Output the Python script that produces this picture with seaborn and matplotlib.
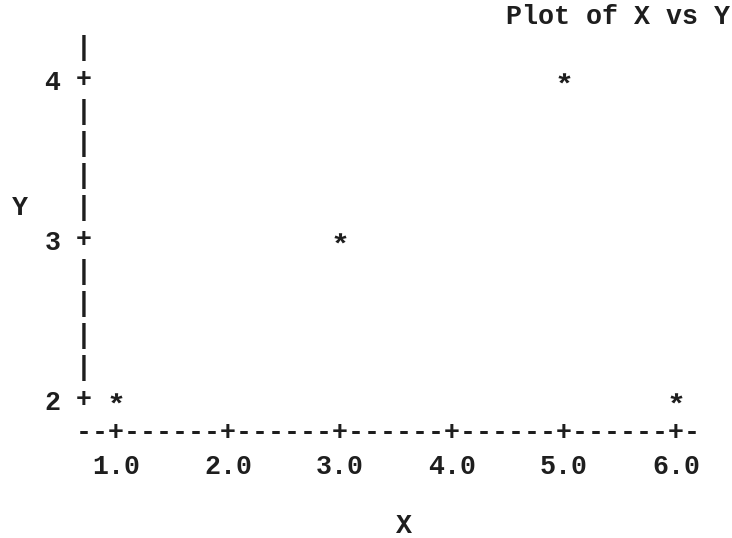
import numpy as np
import matplotlib
matplotlib.use("Agg")
import matplotlib.pyplot as plt
import seaborn as sns
from matplotlib.textpath import TextPath
from matplotlib.font_manager import FontProperties
from matplotlib.path import Path

# ============ Data ============
x_vals = [1.0, 3.0, 5.0, 6.0]
y_vals = [2, 3, 4, 2]
x_ticks = [1.0, 2.0, 3.0, 4.0, 5.0, 6.0]
x_tick_labels = ["1.0", "2.0", "3.0", "4.0", "5.0", "6.0"]
y_ticks = [2, 3, 4]
y_tick_labels = ["2", "3", "4"]

# ============ Style ============
sns.set_theme(style="white")
plt.rcParams["font.family"] = ["Liberation Mono", "DejaVu Sans Mono"]
plt.rcParams["font.weight"] = "bold"
FS = 19.2          # 16 px per character at 100 dpi
INK = "#1e1e1e"
W, H = 732, 538

fig = plt.figure(figsize=(W / 100, H / 100), dpi=100)
ax = fig.add_axes([84 / W, (H - 433) / H, (700 - 84) / W, (433 - 30) / H])
ax.set_xlim(1 - 32 / 112, 6 + 24 / 112)
ax.set_ylim(2 - 33 / 160, 4 + 50 / 160)
for s in ax.spines.values():
    s.set_visible(False)

# asterisk marker built from the font glyph, centred on its ink box
fp = FontProperties(family="Liberation Mono", weight="bold")
tp = TextPath((0, 0), "*", prop=fp, size=1)
ext = tp.get_extents()
verts = tp.vertices - [(ext.x0 + ext.x1) / 2, (ext.y0 + ext.y1) / 2 - 0.08]
verts[:, 0] *= 1.15                       # the printer asterisk is a bit wider
verts[tp.codes == Path.CLOSEPOLY] = 0.0   # ignored when drawn, keep scaling sane
star = Path(verts, tp.codes)

sns.scatterplot(x=x_vals, y=y_vals, marker=star, s=110, color=INK,
                edgecolor=INK, linewidth=0, ax=ax, legend=False)

# ---------- ASCII y axis ----------
ytr = ax.get_yaxis_transform()
rows = np.arange(y_ticks[0], y_ticks[-1] + 0.21, 0.2)
for r in rows:
    ch = "+" if np.isclose(r, np.round(r)) else "|"
    ax.text(0, r, ch, transform=ytr, ha="center", va="center",
            fontsize=FS, color=INK, clip_on=False)

# ---------- ASCII x axis ----------
xtr = ax.get_xaxis_transform()
cols = x_ticks[0] + np.arange(-2, (len(x_ticks) - 1) * 7 + 2) / 7
for c in cols:
    ch = "+" if np.isclose(c, np.round(c)) else "-"
    ax.text(c, 0, ch, transform=xtr, ha="center", va="center",
            fontsize=FS, color=INK, clip_on=False)

# ---------- tick labels ----------
ax.set_xticks(x_ticks, x_tick_labels)
ax.set_yticks(y_ticks, y_tick_labels)
ax.tick_params(axis="x", length=0, pad=15, labelsize=FS, labelcolor=INK)
ax.tick_params(axis="y", length=0, pad=17, labelsize=FS, labelcolor=INK)

# ---------- labels / title ----------
ax.set_xlabel("X", fontsize=FS, color=INK, fontweight="bold")
ax.xaxis.label.set_va("baseline")
ax.xaxis.set_label_coords((404 - 84) / 616, (433 - 533) / 403)
ax.set_ylabel("Y", fontsize=FS, color=INK, rotation=0, fontweight="bold")
ax.yaxis.label.set_va("baseline")
ax.yaxis.label.set_ha("center")
ax.yaxis.set_label_coords((20 - 84) / 616, (433 - 215) / 403)
fig.text(730 / W, 1 - 17 / H, "Plot of X vs Y", ha="right", va="center",
         fontsize=FS, color=INK)

fig.savefig("out.png", dpi=100)
